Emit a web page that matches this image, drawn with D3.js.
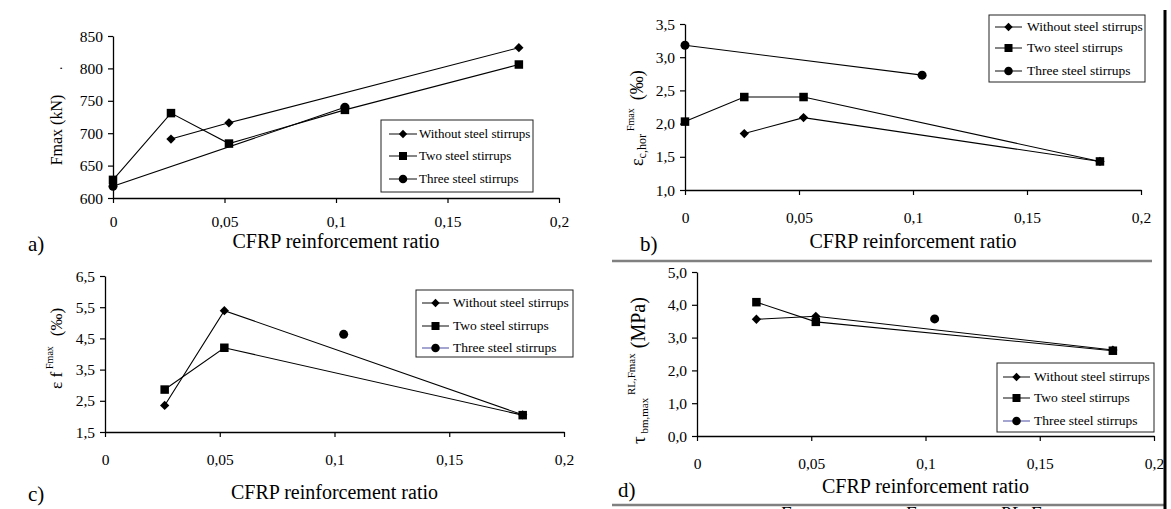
<!DOCTYPE html>
<html><head><meta charset="utf-8">
<script src="https://cdn.jsdelivr.net/npm/d3@7"></script>
<style>
body{margin:0;background:#fff}
svg{display:block}
text{font-family:"Liberation Serif","Times New Roman",serif;fill:#000}
</style>
</head><body>
<svg id="chart" width="1171" height="509" font-family="Liberation Serif, Times New Roman, serif"></svg>
<script>
// ---------- data ----------
const xTicks = [0, 0.05, 0.1, 0.15, 0.2];
const xTickLabels = ["0", "0,05", "0,1", "0,15", "0,2"];
const seriesNames = ["Without steel stirrups", "Two steel stirrups", "Three steel stirrups"];
const xTitle = "CFRP reinforcement ratio";

// a) Fmax (kN)
const aYTicks = [600, 650, 700, 750, 800, 850];
const aWithoutX = [0.026, 0.052, 0.182];
const aWithoutY = [691, 716, 832];
const aTwoX = [0, 0.026, 0.052, 0.104, 0.182];
const aTwoY = [628, 731, 684, 736, 806];
const aThreeX = [0, 0.104];
const aThreeY = [618, 740];

// b) eps c,hor (permil)
const bYTicks = [1.0, 1.5, 2.0, 2.5, 3.0, 3.5];
const bWithoutX = [0.026, 0.052, 0.182];
const bWithoutY = [1.85, 2.09, 1.43];
const bTwoX = [0, 0.026, 0.052, 0.182];
const bTwoY = [2.03, 2.40, 2.40, 1.43];
const bThreeX = [0, 0.104];
const bThreeY = [3.18, 2.73];

// c) eps f (permil)
const cYTicks = [1.5, 2.5, 3.5, 4.5, 5.5, 6.5];
const cWithoutX = [0.026, 0.052, 0.182];
const cWithoutY = [2.35, 5.39, 2.05];
const cTwoX = [0.026, 0.052, 0.182];
const cTwoY = [2.86, 4.20, 2.04];
const cThreeX = [0.104];
const cThreeY = [4.63];

// d) tau bm,max (MPa)
const dYTicks = [0, 1, 2, 3, 4, 5];
const dWithoutX = [0.026, 0.052, 0.182];
const dWithoutY = [3.56, 3.65, 2.62];
const dTwoX = [0.026, 0.052, 0.182];
const dTwoY = [4.08, 3.48, 2.60];
const dThreeX = [0.104];
const dThreeY = [3.57];

// ---------- drawing ----------
const svg = d3.select("#chart");
const zip = (xs, ys) => xs.map((x, i) => ({x, y: ys[i]}));
const fmtComma = d => d3.format(".1f")(d).replace(".", ",");
const SERIF = '"Liberation Serif","Times New Roman",serif';

function marker(g, type, cx, cy, s, color) {
  if (type === 0) {
    g.append("path").attr("d", d3.symbol().type(d3.symbolDiamond2).size(s * s * 0.55)())
      .attr("transform", `translate(${cx},${cy})`).attr("fill", color);
  } else if (type === 1) {
    g.append("rect").attr("x", cx - s / 2).attr("y", cy - s / 2).attr("width", s).attr("height", s).attr("fill", color);
  } else {
    g.append("circle").attr("cx", cx).attr("cy", cy).attr("r", s / 2).attr("fill", color);
  }
}

function panel(cfg) {
  const g = svg.append("g");
  const x = d3.scaleLinear().domain([0, 0.2]).range([cfg.x0, cfg.x1]);
  const y = d3.scaleLinear().domain([cfg.yTicks[0], cfg.yTicks[cfg.yTicks.length - 1]]).range([cfg.yBot, cfg.yTop]);

  const ya = g.append("g").attr("transform", `translate(${cfg.x0},0)`)
    .call(d3.axisLeft(y).tickValues(cfg.yTicks).tickFormat(cfg.yFmt).tickSize(5).tickSizeOuter(0).tickPadding(5));
  const xa = g.append("g").attr("transform", `translate(0,${cfg.yBot})`)
    .call(d3.axisBottom(x).tickValues(xTicks).tickFormat((d, i) => xTickLabels[i]).tickSize(5).tickSizeOuter(0));
  [ya, xa].forEach(a => {
    a.attr("font-family", null).attr("font-size", null);
    a.select(".domain").attr("stroke", "#000").attr("stroke-width", 1.3);
    a.selectAll(".tick line").attr("stroke", "#000").attr("stroke-width", 1.2);
    a.selectAll("text").style("font-family", SERIF).style("font-size", "15.5px").attr("fill", "#000");
  });
  xa.selectAll("text").attr("y", cfg.xLabOff).attr("dy", null);
  ya.selectAll("text").attr("dy", "0.33em");

  const sets = cfg.s.map(p => zip(p[0], p[1]));
  const line = d3.line().x(d => x(d.x)).y(d => y(d.y));
  sets.forEach(data => {
    if (data.length > 1)
      g.append("path").attr("d", line(data)).attr("fill", "none").attr("stroke", "#000").attr("stroke-width", 1.1);
  });
  const msz = [10, 8.5, 9];
  sets.forEach((data, k) => data.forEach(d => marker(g, k, x(d.x), y(d.y), msz[k], "#000")));

  g.append("text").attr("x", (cfg.x0 + cfg.x1) / 2).attr("y", cfg.titleY).attr("text-anchor", "middle")
    .style("font-size", "20px").text(xTitle);
  g.append("text").attr("x", cfg.lab[0]).attr("y", cfg.lab[1]).style("font-size", "21px").text(cfg.lab[2]);

  const L = cfg.leg;
  g.append("rect").attr("x", L.x).attr("y", L.y).attr("width", L.w).attr("height", L.h)
    .attr("fill", "#fff").attr("stroke", "#222").attr("stroke-width", 1);
  seriesNames.forEach((name, k) => {
    const ry = L.rows[k];
    const col = (k === 2 && cfg.blueThree) ? "#5b5bab" : "#222";
    g.append("line").attr("x1", L.lx0).attr("x2", L.lx1).attr("y1", ry).attr("y2", ry)
      .attr("stroke", col).attr("stroke-width", 1.1);
    marker(g, k, (L.lx0 + L.lx1) / 2, ry, [9, 8, 8.5][k], "#000");
    g.append("text").attr("x", L.tx).attr("y", ry).attr("dy", "0.33em").style("font-size", L.fs + "px").text(name);
  });

  const yt = g.append("text").attr("transform", `translate(${cfg.yt[0]},${cfg.yt[1]}) rotate(-90)`)
    .attr("text-anchor", cfg.yt[2] || "middle");
  cfg.yParts.forEach(p => {
    const t = yt.append("tspan").style("font-size", p[1] + "px").text(p[0]);
    if (p[2]) t.attr("dy", p[2]);
    if (p[3]) t.attr("dx", p[3]);
  });
  return g;
}

panel({
  x0: 113, x1: 559, yTop: 36, yBot: 198, yTicks: aYTicks, yFmt: d3.format("d"), xLabOff: 29,
  s: [[aWithoutX, aWithoutY], [aTwoX, aTwoY], [aThreeX, aThreeY]],
  titleY: 248, lab: [28, 251, "a)"],
  leg: {x: 381, y: 120, w: 152, h: 72, rows: [134, 156, 179], lx0: 389, lx1: 417, tx: 419, fs: 13},
  yt: [62, 130], yParts: [["Fmax (kN)", 16]]
});
svg.append("text").attr("transform", "translate(62,70) rotate(-90)").style("font-size", "14px").text(".");

panel({
  x0: 685, x1: 1141, yTop: 24, yBot: 190, yTicks: bYTicks, yFmt: fmtComma, xLabOff: 33,
  s: [[bWithoutX, bWithoutY], [bTwoX, bTwoY], [bThreeX, bThreeY]],
  titleY: 248, lab: [640, 251, "b)"],
  leg: {x: 989, y: 15, w: 156, h: 67, rows: [27, 48, 71], lx0: 995, lx1: 1022, tx: 1027, fs: 13.5},
  yt: [643, 166, "start"], yParts: [["ε", 18], ["c,hor", 12, 3], ["Fmax", 10, -12, 3], ["(‰)", 18, 9, 8]]
});

panel({
  x0: 105, x1: 564, yTop: 276, yBot: 432, yTicks: cYTicks, yFmt: fmtComma, xLabOff: 33,
  s: [[cWithoutX, cWithoutY], [cTwoX, cTwoY], [cThreeX, cThreeY]],
  titleY: 499, lab: [28, 501, "c)"], blueThree: true,
  leg: {x: 416, y: 290, w: 157, h: 67, rows: [303, 326, 348], lx0: 422, lx1: 449, tx: 453, fs: 13.5},
  yt: [62, 389, "start"], yParts: [["ε f", 17], ["Fmax", 10, -9, 3], ["(‰)", 17, 9, 10]]
});

panel({
  x0: 697, x1: 1154, yTop: 272, yBot: 436, yTicks: dYTicks, yFmt: fmtComma, xLabOff: 33,
  s: [[dWithoutX, dWithoutY], [dTwoX, dTwoY], [dThreeX, dThreeY]],
  titleY: 493, lab: [618, 497, "d)"], blueThree: true,
  leg: {x: 997, y: 363, w: 157, h: 69, rows: [377, 398, 421], lx0: 1003, lx1: 1030, tx: 1034, fs: 13.5},
  yt: [645, 444, "start"], yParts: [["τ", 19], [" bm,max", 11, 3], [" RL,Fmax", 11, -13], [" (MPa)", 20, 10]]
});

// frame lines of the page layout
svg.append("line").attr("x1", 612).attr("x2", 1152).attr("y1", 261).attr("y2", 261).attr("stroke", "#808080").attr("stroke-width", 2.5);
svg.append("line").attr("x1", 612).attr("x2", 1164).attr("y1", 505).attr("y2", 505).attr("stroke", "#808080").attr("stroke-width", 2.5);
svg.append("line").attr("x1", 1165).attr("x2", 1165).attr("y1", 10).attr("y2", 509).attr("stroke", "#000").attr("stroke-width", 3);

// cut-off caption fragments at the bottom edge
[["F", 780], ["F", 905], ["RL", 1000], ["F", 1030]].forEach(f => {
  svg.append("text").attr("x", f[1]).attr("y", 520).style("font-size", "18px").style("font-style", "italic").text(f[0]);
});
</script>
</body></html>
